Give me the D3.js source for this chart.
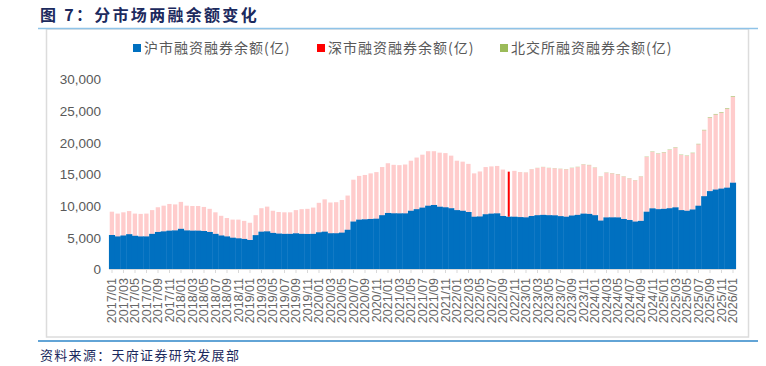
<!DOCTYPE html>
<html lang="zh">
<head>
<meta charset="UTF-8">
<title>分市场两融余额变化</title>
<style>
    body { margin: 0; padding: 0; background: #fff; }
    svg { display: block; }
    .cn { font-family: "Noto Sans CJK SC", sans-serif; }
    .num { font-family: "Liberation Sans", Arial, sans-serif; }
</style>
</head>
<body>
<svg id="chart" width="766" height="366"></svg>

<script src="https://d3js.org/d3.v7.min.js"></script>
<script>
    // months, 2017/01 .. 2026/01
    var months = [
        "2017/01","2017/02","2017/03","2017/04","2017/05","2017/06","2017/07","2017/08","2017/09","2017/10","2017/11","2017/12",
        "2018/01","2018/02","2018/03","2018/04","2018/05","2018/06","2018/07","2018/08","2018/09","2018/10","2018/11","2018/12",
        "2019/01","2019/02","2019/03","2019/04","2019/05","2019/06","2019/07","2019/08","2019/09","2019/10","2019/11","2019/12",
        "2020/01","2020/02","2020/03","2020/04","2020/05","2020/06","2020/07","2020/08","2020/09","2020/10","2020/11","2020/12",
        "2021/01","2021/02","2021/03","2021/04","2021/05","2021/06","2021/07","2021/08","2021/09","2021/10","2021/11","2021/12",
        "2022/01","2022/02","2022/03","2022/04","2022/05","2022/06","2022/07","2022/08","2022/09","2022/10","2022/11","2022/12",
        "2023/01","2023/02","2023/03","2023/04","2023/05","2023/06","2023/07","2023/08","2023/09","2023/10","2023/11","2023/12",
        "2024/01","2024/02","2024/03","2024/04","2024/05","2024/06","2024/07","2024/08","2024/09","2024/10","2024/11","2024/12",
        "2025/01","2025/02","2025/03","2025/04","2025/05","2025/06","2025/07","2025/08","2025/09","2025/10","2025/11","2025/12",
        "2026/01"
    ];

    // 沪市融资融券余额 (亿)
    var shBalance = [
        5370, 5150, 5300, 5500, 5250, 5150, 5150, 5550, 5850, 5950, 6060, 6100,
        6350, 6100, 6060, 6060, 6000, 5850, 5550, 5300, 5150, 4950, 4850, 4750,
        4580, 5350, 5900, 5950, 5700, 5600, 5550, 5550, 5640, 5550, 5530, 5550,
        5800, 5900, 5650, 5650, 5750, 6200, 7500, 7800, 7850, 7900, 7950, 8500,
        8850, 8800, 8790, 8790, 9200, 9450, 9700, 10000, 10110, 9840, 9750, 9600,
        9300, 9200, 9000, 8260, 8300, 8650, 8750, 8790, 8370, 8260, 8260, 8200,
        8160, 8370, 8500, 8550, 8500, 8480, 8350, 8260, 8450, 8550, 8750, 8700,
        8500, 7650, 8150, 8160, 8150, 7900, 7740, 7500, 7600, 9050, 9580, 9450,
        9500, 9600, 9740, 9300, 9200, 9400, 10000, 11500, 12300, 12550, 12700, 12850,
        13630
    ];

    // 深市融资融券余额 (亿)
    var szBalance = [
        3680, 3600, 3650, 3650, 3500, 3550, 3600, 3750, 3900, 4050, 4210, 4100,
        4250, 3900, 3890, 3890, 3800, 3650, 3400, 3100, 2900, 2850, 2950, 2850,
        2720, 3150, 3700, 3900, 3500, 3400, 3400, 3400, 3660, 3900, 3970, 4150,
        4650, 5100, 4850, 4900, 5150, 5400, 6600, 6900, 7000, 7200, 7350, 7600,
        7850, 7650, 7610, 7710, 7900, 8150, 8350, 8600, 8490, 8530, 8550, 8300,
        7800, 7750, 7600, 6840, 7100, 7450, 7450, 7480, 7330, 7110, 7240, 7100,
        7090, 7380, 7450, 7550, 7450, 7420, 7450, 7480, 7500, 7550, 7750, 7700,
        7500, 6950, 7050, 6940, 6800, 6700, 6560, 6500, 7000, 8650, 8920, 8750,
        8900, 9200, 9410, 8700, 8650, 8900, 9700, 10400, 11600, 11850, 12000, 12450,
        13570
    ];

    // 北交所融资融券余额 (亿)
    var bjBalance = [
        0, 0, 0, 0, 0, 0, 0, 0, 0, 0, 0, 0,
        0, 0, 0, 0, 0, 0, 0, 0, 0, 0, 0, 0,
        0, 0, 0, 0, 0, 0, 0, 0, 0, 0, 0, 0,
        0, 0, 0, 0, 0, 0, 0, 0, 0, 0, 0, 0,
        0, 0, 0, 0, 0, 0, 0, 0, 0, 0, 0, 0,
        0, 0, 0, 0, 0, 0, 0, 0, 0, 0, 0, 8,
        12, 15, 18, 20, 22, 25, 28, 30, 32, 33, 35, 36,
        34, 30, 33, 34, 35, 33, 32, 30, 33, 45, 52, 50,
        52, 55, 58, 52, 54, 56, 62, 70, 78, 80, 82, 85,
        90
    ];

    var seriesNames = ["沪市融资融券余额(亿)", "深市融资融券余额(亿)", "北交所融资融券余额(亿)"];
    var seriesColors = ["#0070c0", "#ff0000", "#9bbb59"];
    var yTicks = [0, 5000, 10000, 15000, 20000, 25000, 30000];
    var tickLabels = months.filter(function (m, i) { return i % 2 === 0; });
    var highlightMonth = "2022/10";

    var svg = d3.select("#chart");
    var navy = "#1c2a5e";

    // header / footer
    svg.append("text").attr("class", "cn")
        .attr("x", 40).attr("y", 21)
        .style("font-size", "16px").style("font-weight", "bold")
        .style("letter-spacing", "2.3px")
        .attr("fill", navy)
        .text("图 7：分市场两融余额变化");

    svg.append("rect")
        .attr("x", 46.5).attr("y", 29).attr("width", 702).attr("height", 308)
        .attr("fill", "none").attr("stroke", "#dcdcdc").attr("stroke-width", 1.5);

    svg.append("line").attr("x1", 38).attr("x2", 758).attr("y1", 28.5).attr("y2", 28.5)
        .attr("stroke", "#8fc3e8").attr("stroke-width", 1.5);
    svg.append("line").attr("x1", 38).attr("x2", 758).attr("y1", 341).attr("y2", 341)
        .attr("stroke", "#2e86c8").attr("stroke-width", 1.5);

    svg.append("text").attr("class", "cn")
        .attr("x", 40).attr("y", 360)
        .style("font-size", "13px").style("letter-spacing", "1.3px")
        .attr("fill", navy)
        .text("资料来源：天府证券研究发展部");

    // scales
    var step = 5.75;
    var x = d3.scaleBand()
        .domain(months)
        .range([112 - step / 2, 112 + step * (months.length - 0.5)])
        .padding(0);
    var y = d3.scaleLinear().domain([0, 30000]).range([269, 79]);

    var rows = months.map(function (m, i) {
        return {month: m, sh: shBalance[i], sz: szBalance[i], bj: bjBalance[i]};
    });
    var stack = d3.stack().keys(["sh", "sz", "bj"]);
    var layers = stack(rows);

    // bars: SH drawn edge to edge, the others as thin columns with white gaps
    layers.forEach(function (layer, li) {
        svg.append("g").selectAll("rect")
            .data(layer)
            .enter()
            .append("rect")
            .attr("x", function (d) {
                if (li === 0) return x(d.data.month) - 0.2;
                if (li === 1 && d.data.month === highlightMonth) return x(d.data.month) + x.bandwidth() / 2 - 1;
                return x(d.data.month) + 0.6;
            })
            .attr("width", function (d) {
                if (li === 0) return x.bandwidth() + 0.4;
                if (li === 1 && d.data.month === highlightMonth) return 2;
                return x.bandwidth() - 1.4;
            })
            .attr("y", function (d) { return y(d[1]); })
            .attr("height", function (d) { return Math.max(0, y(d[0]) - y(d[1])); })
            .attr("fill", seriesColors[li])
            .attr("fill-opacity", function (d) {
                if (li === 1) return d.data.month === highlightMonth ? 1 : 0.2;
                return 1;
            });
    });

    // y axis
    var yAxis = d3.axisLeft(y).tickValues(yTicks).tickSize(0).tickPadding(0)
        .tickFormat(d3.format(","));
    var yg = svg.append("g").attr("transform", "translate(101,0)").call(yAxis);
    yg.select(".domain").remove();
    yg.selectAll("text").attr("class", "num")
        .style("font-size", "13.5px").attr("fill", "#595959").attr("dy", "0.35em");

    // x axis
    var xAxis = d3.axisBottom(x).tickValues(tickLabels).tickSize(4).tickSizeOuter(0);
    var xg = svg.append("g").attr("transform", "translate(0,269)").call(xAxis);
    xg.select(".domain").attr("stroke", "#d9d9d9").attr("d", "M" + (x.range()[0]) + ",0.5H" + (x.range()[1]));
    xg.selectAll(".tick line").attr("stroke", "#d9d9d9");
    xg.selectAll("text").attr("class", "num")
        .style("font-size", "12.5px").attr("fill", "#666666")
        .attr("transform", "rotate(-90)")
        .attr("text-anchor", "end")
        .attr("x", -9).attr("y", 0).attr("dy", "0.35em");

    // legend
    var legendX = [133, 317, 500];
    var legend = svg.append("g");
    seriesNames.forEach(function (name, i) {
        legend.append("rect")
            .attr("x", legendX[i]).attr("y", 44).attr("width", 8).attr("height", 8)
            .attr("fill", seriesColors[i]);
        legend.append("text").attr("class", "cn")
            .attr("x", legendX[i] + 11).attr("y", 53)
            .style("font-size", "14px").style("letter-spacing", "1px")
            .attr("fill", "#595959")
            .text(name);
    });
</script>
</body>
</html>
